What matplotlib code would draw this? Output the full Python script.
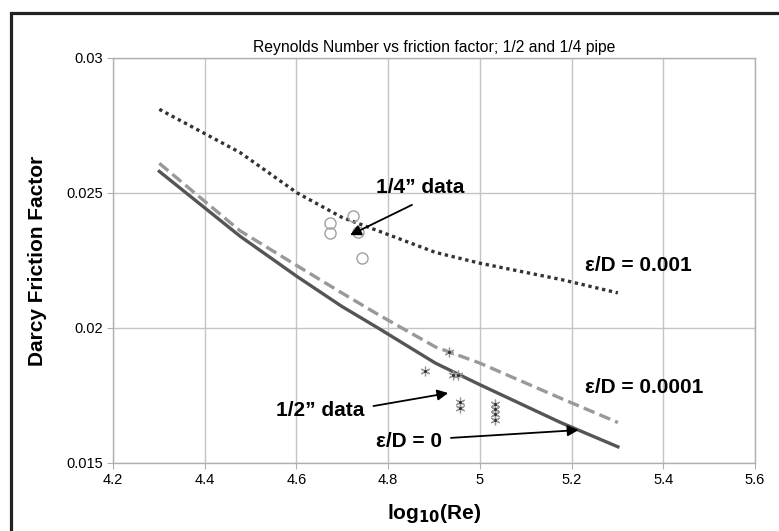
import matplotlib
matplotlib.use("Agg")
import matplotlib.pyplot as plt
from matplotlib.lines import Line2D
from matplotlib import font_manager

names = {f.name for f in font_manager.fontManager.ttflist}
narrow = 'Liberation Sans Narrow' if 'Liberation Sans Narrow' in names else 'Liberation Sans'
plt.rcParams['font.family'] = [narrow, 'DejaVu Sans']

# ---- data ----
log_re = [4.301, 4.477, 4.602, 4.699, 4.778, 4.903, 5.0, 5.176, 5.301]
f_rough_001 = [0.0281, 0.0265, 0.0250, 0.0241, 0.0236, 0.0228, 0.0224, 0.0218, 0.0213]
f_rough_0001 = [0.0261, 0.0236, 0.0223, 0.0213, 0.0205, 0.0193, 0.0187, 0.0174, 0.0165]
f_smooth = [0.0258, 0.0234, 0.0219, 0.0208, 0.0200, 0.0187, 0.0179, 0.0165, 0.0156]

quarter_x = [4.673, 4.673, 4.723, 4.734, 4.743]
quarter_f = [0.02389, 0.02352, 0.02415, 0.02356, 0.02259]

half_x = [4.880, 4.933, 4.942, 4.952, 4.957, 4.957, 5.033, 5.033, 5.033, 5.033]
half_f = [0.01841, 0.01911, 0.01826, 0.01826, 0.01726, 0.01704, 0.01719, 0.01700, 0.01681, 0.01659]

xticks = [4.2, 4.4, 4.6, 4.8, 5.0, 5.2, 5.4, 5.6]
xtick_labels = ['4.2', '4.4', '4.6', '4.8', '5', '5.2', '5.4', '5.6']
yticks = [0.015, 0.02, 0.025, 0.03]
ytick_labels = ['0.015', '0.02', '0.025', '0.03']

W, H = 779, 531
fig = plt.figure(figsize=(W / 100, H / 100), dpi=100)
ax = fig.add_axes([113 / W, 1 - 463 / H, (755 - 113) / W, (463 - 58) / H])

ax.set_xlim(4.2, 5.6)
ax.set_ylim(0.015, 0.03)
ax.set_xticks(xticks)
ax.set_xticklabels(xtick_labels)
ax.set_yticks(yticks)
ax.set_yticklabels(ytick_labels)
ax.grid(True, color='#c4c4c4', lw=1.0)
ax.set_axisbelow(True)
for s in ax.spines.values():
    s.set_color('#b0b0b0')
    s.set_linewidth(1.0)
ax.tick_params(direction='out', length=4, color='#b0b0b0', labelsize=10.5, pad=3)

ax.plot(log_re, f_rough_001, color='#333333', lw=2.4, ls=(0, (1, 1.1)), solid_capstyle='butt')
ax.plot(log_re, f_rough_0001, color='#999999', lw=2.4, ls=(0, (3.5, 1.6)))
ax.plot(log_re, f_smooth, color='#555555', lw=2.4)

ax.plot(quarter_x, quarter_f, ls='none', marker='o', ms=8, mfc='none', mec='#a0a0a0', mew=1.0)
ax.plot(half_x, half_f, ls='none', marker=(6, 2, 0), ms=7, color='#999999', mew=0.9)
ax.plot(half_x, half_f, ls='none', marker='.', ms=2.5, color='#333333')

ax.set_title('Reynolds Number vs friction factor; 1/2 and 1/4 pipe', fontsize=11.3, pad=4)
ax.set_ylabel('Darcy Friction Factor', fontsize=15, fontweight='bold', labelpad=14,
              family=['Liberation Sans', 'DejaVu Sans'])
ax.set_xlabel(r'log$_{\mathbf{10}}$(Re)', fontsize=15, fontweight='bold', labelpad=11,
              family=['Liberation Sans', 'DejaVu Sans'])

bold = dict(fontsize=15, fontweight='bold', family=['Liberation Sans', 'DejaVu Sans'],
            ha='center', va='center')
ap = dict(arrowstyle='-|>', lw=1.3, color='black', mutation_scale=16, shrinkA=0, shrinkB=0)

ax.text(4.870, 0.02519, '1/4\u201d data', **bold)
ax.annotate('', xy=(4.717, 0.02344), xytext=(4.852, 0.02456), arrowprops=ap)
ax.text(5.345, 0.02233, '\u03b5/D = 0.001', **bold)
ax.text(5.358, 0.01781, '\u03b5/D = 0.0001', **bold)
ax.text(4.651, 0.01693, '1/2\u201d data', **bold)
ax.annotate('', xy=(4.931, 0.01759), xytext=(4.768, 0.01711), arrowprops=ap)
ax.text(4.845, 0.01581, '\u03b5/D = 0', **bold)
ax.annotate('', xy=(5.215, 0.01622), xytext=(4.937, 0.01593), arrowprops=ap)

# outer frame (top and left edges visible)
fig.add_artist(Line2D([11 / W, 11 / W, 1.0], [0.0, 1 - 13 / H, 1 - 13 / H],
                      transform=fig.transFigure, color='#222222', lw=2.3,
                      solid_joinstyle='miter'))

fig.savefig('out.png', dpi=100)
